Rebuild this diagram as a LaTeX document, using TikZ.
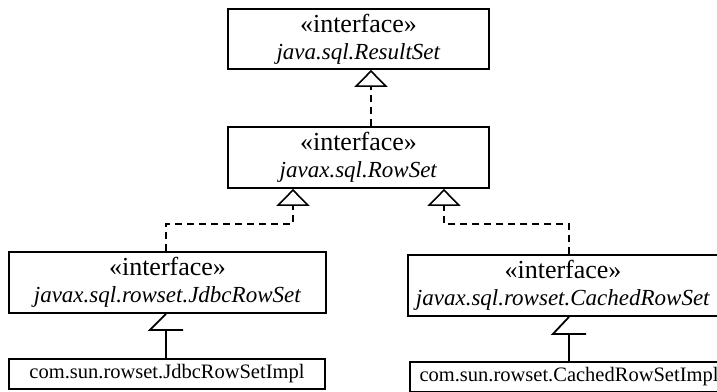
\documentclass[tikz,border=0pt]{standalone}
\usepackage{fontspec}
\setmainfont{Liberation Serif}
\usetikzlibrary{arrows.meta}
\tikzset{
  ibox/.style={draw, line width=1.8pt, minimum height=60pt, inner sep=0pt, align=center, font=\fontsize{23}{27}\selectfont},
  cbox/.style={draw, line width=1.8pt, minimum height=30pt, inner sep=0pt, font=\fontsize{20.5}{24}\selectfont},
  dep/.style={line width=2.5pt, dash pattern=on 7pt off 5pt, -{Triangle[open, length=17pt, width=33pt, line width=1.6pt, fill=white]}},
  opentri/.style={line width=1.8pt},
}
\newcommand{\stereo}{{\fontsize{26}{27}\selectfont «interface»}}
\begin{document}
\begin{tikzpicture}[x=1pt,y=1pt]
\useasboundingbox (0,0) rectangle (717,391);
\node[ibox, minimum width=261pt] (b1) at (358.5,352) {\stereo\\\textit{java.sql.ResultSet}};
\node[ibox, minimum width=261pt, minimum height=61pt] (b2) at (358.5,233.5) {\stereo\\\textit{javax.sql.RowSet}};
\node[ibox, minimum width=317pt, minimum height=61pt] (b3) at (167.5,108.5) {\stereo\\\textit{javax.sql.rowset.JdbcRowSet}};
\node[cbox, minimum width=316pt] (b4) at (167,17) {com.sun.rowset.JdbcRowSetImpl};
\node[ibox, minimum width=310pt, minimum height=61pt] (b5) at (563,105.5) {\stereo\\\textit{javax.sql.rowset.CachedRowSet}};
\node[cbox, minimum width=318pt] (b6) at (569,14) {com.sun.rowset.CachedRowSetImpl};
\coordinate (t1) at (371,0);
\coordinate (t3) at (166,0);
\coordinate (k1) at (293,167);
\coordinate (k2) at (444,167);
\draw[dep] (b2.north -| t1) -- (b1.south -| t1);
\draw[dep] (b3.north -| t3) |- (k1) -- (k1 |- b2.south);
\draw[dep] (b6.north |- b5.north) |- (k2) -- (k2 |- b2.south);
\draw[opentri] (t3 |- b3.south) -- ++(-16,-16) -- ++(33,0);
\draw[opentri] ([yshift=-16pt]t3 |- b3.south) -- (t3 |- b4.north);
\draw[opentri] (b6.north |- b5.south) -- ++(-16,-17) -- ++(33,0);
\draw[opentri] ([yshift=-17pt]b6.north |- b5.south) -- (b6.north);
\end{tikzpicture}
\end{document}
